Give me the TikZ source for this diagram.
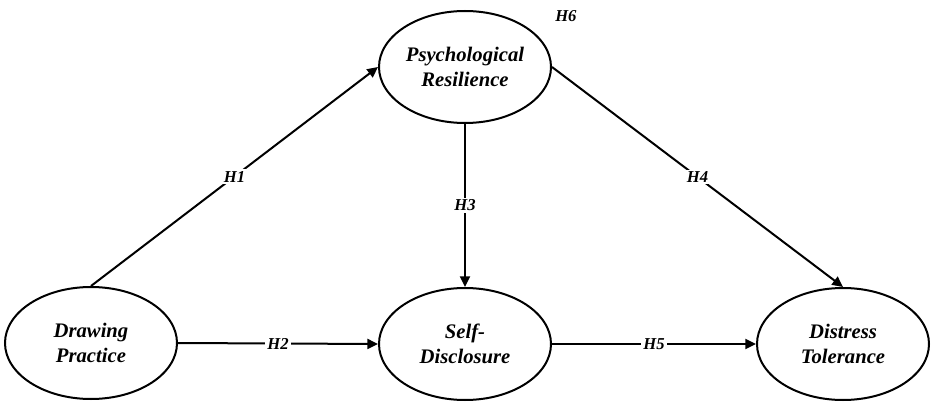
\documentclass[tikz,border=0pt]{standalone}
\usepackage{fontspec}
\setmainfont{Liberation Serif}
\usetikzlibrary{shapes.geometric,arrows.meta}

\tikzset{
  construct/.style={draw, line width=1.5pt, ellipse, minimum width=129pt, minimum height=84pt,
    inner sep=0pt, align=center, font=\fontsize{15.5}{18.5}\selectfont\bfseries\itshape},
  path/.style={line width=1.5pt, -{Triangle[length=8pt,width=7.5pt]}},
  hlabel/.style={fill=white, inner sep=1.5pt, font=\fontsize{12.5}{14}\selectfont\bfseries\itshape}
}

\begin{document}
\begin{tikzpicture}[x=0.75pt,y=0.75pt,yscale=-1,xscale=1]
\useasboundingbox (0,0) rectangle (935,406);

%Shape: Ellipse [construct nodes]
\node [construct] (pr) at (465,67) {Psychological\\Resilience};
\node [construct] (dp) at (91,343) {Drawing\\Practice};
\node [construct] (sd) at (465,344) {Self-\\Disclosure};
\node [construct] (dt) at (843,344) {Distress\\Tolerance};

%Straight Lines [hypothesis paths]
\draw [path] (dp.north) -- node [hlabel] (h1) {H1} (pr.west);
\draw [path] (dp.east) -- node [hlabel] (h2) {H2} (sd.west);
\draw [path] (pr.south) -- node [hlabel] (h3) {H3} (sd.north);
\draw [path] (pr.east) -- node [hlabel] (h4) {H4} (dt.north);
\draw [path] (sd.east) -- node [hlabel] (h5) {H5} (dt.west);

% Text Node
\node [hlabel, anchor=west] (h6) at (553,16) {H6};

\end{tikzpicture}
\end{document}
